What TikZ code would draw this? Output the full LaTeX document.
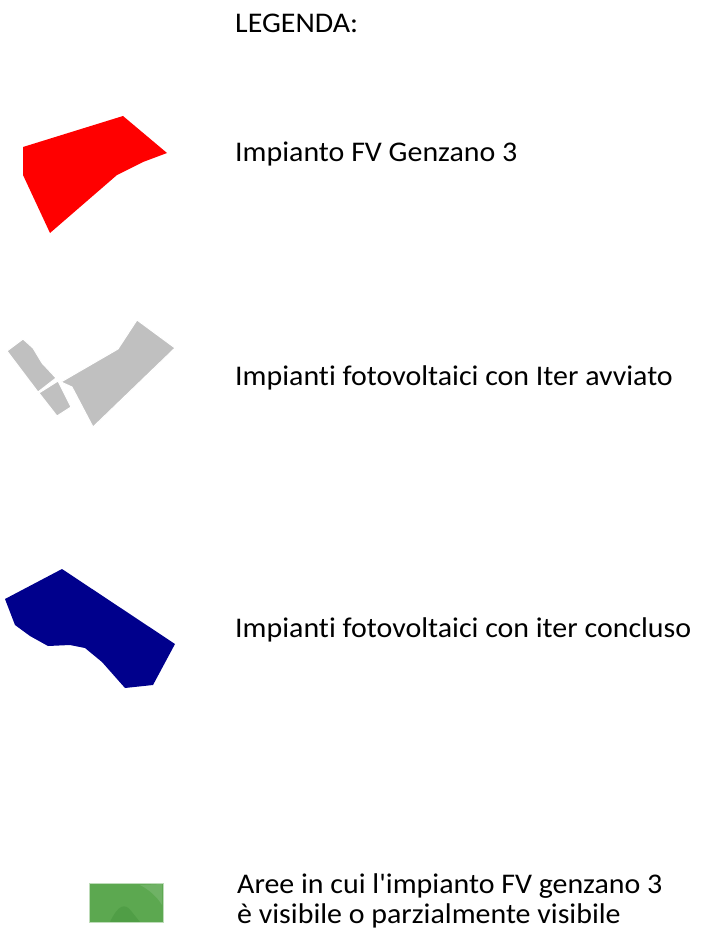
\documentclass[tikz,border=0pt]{standalone}
\usepackage{fontspec}
\setmainfont{Carlito}[Ligatures={NoCommon,TeXOff},FakeStretch=1.05]
\definecolor{fvred}{RGB}{255,0,0}
\definecolor{fvgray}{RGB}{192,192,192}
\definecolor{fvblue}{RGB}{0,0,140}
\definecolor{fvgreen}{RGB}{92,168,80}
\definecolor{fvgreendark}{RGB}{70,150,62}
\begin{document}
\begin{tikzpicture}[x=1pt,y=-1pt,
  lbl/.style={anchor=base west,inner sep=0pt,font=\fontsize{28.5}{30}\selectfont},
  grayarea/.style={fill=fvgray,draw=white,line width=1pt,line join=round}]
\useasboundingbox (0,0) rectangle (708,939);
% title
\node[lbl] (title) at (235,33) {LEGENDA:};
% red
\fill[fvred] (23,147) -- (123,116) -- (167,153) -- (143,162) -- (117,175) -- (50,233) -- (23,175) -- cycle;
\node[lbl] (red) at (235,161) {Impianto FV Genzano 3};
% gray
\path[grayarea] (7,351) -- (23,339) -- (33,348) -- (42,363) -- (56,378) -- (38,392) -- cycle;
\path[grayarea] (39,393) -- (58,381) -- (71,407) -- (57,416) -- cycle;
\path[grayarea] (61,382) -- (118,349) -- (137,320) -- (175,348) -- (93,427) -- (72,387) -- cycle;
\node[lbl] (gray) at (235,385) {Impianti fotovoltaici con Iter avviato};
% blue
\fill[fvblue] (5,599) -- (62,569) -- (175,644) -- (153,685) -- (125,688) -- (102,662) -- (85,648) -- (70,645) -- (48,646) -- (30,636) -- (15,625) -- cycle;
\node[lbl] (blue) at (235,637) {Impianti fotovoltaici con iter concluso};
% green
\fill[fvgreen] (89,883) rectangle (163,922);
\fill[fvgreendark,opacity=0.5] (110,922) .. controls (118,905) and (125,902) .. (132,912) -- (140,922) -- cycle;
\fill[white,opacity=0.12] (140,885) .. controls (150,890) and (158,898) .. (162,905) -- (162,884) -- cycle;
\draw[white!60!fvgreen,line width=0.8pt] (89,883) rectangle (163,922);
\node[lbl] (green1) at (237,893) {Aree in cui l'impianto FV genzano 3};
\node[lbl] (green2) at (237,923) {è visibile o parzialmente visibile};
\end{tikzpicture}
\end{document}
